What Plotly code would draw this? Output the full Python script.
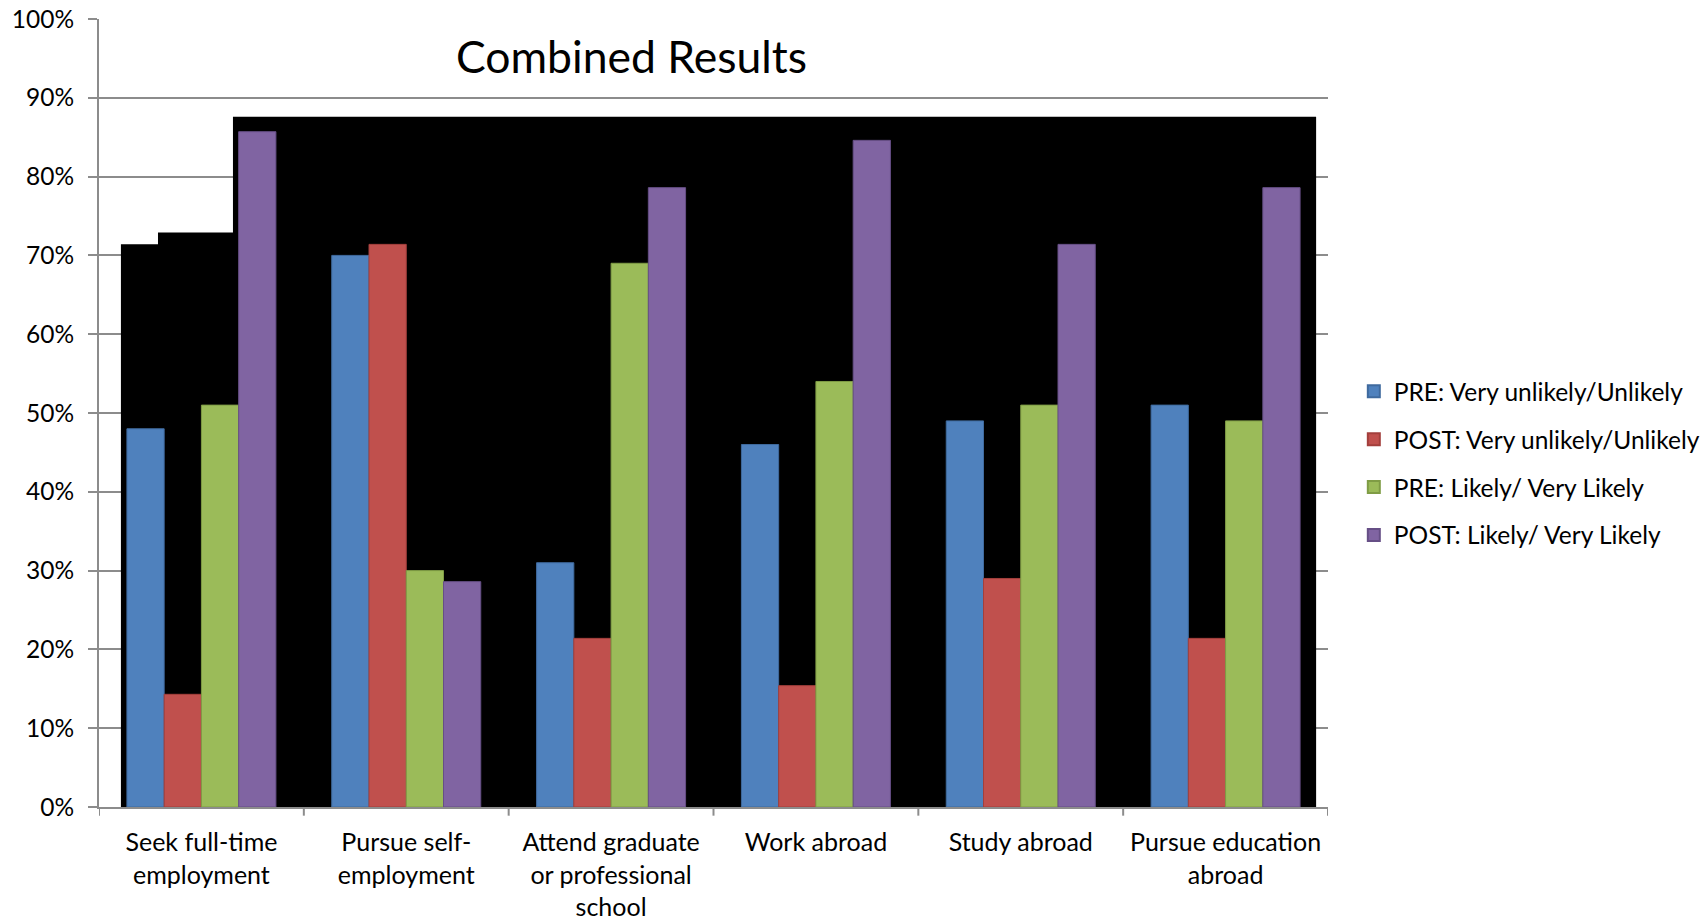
import plotly.graph_objects as go

# Survey outcomes, share of respondents per intention
categories = [
    "Seek full-time<br>employment",
    "Pursue self-<br>employment",
    "Attend graduate<br>or professional<br>school",
    "Work abroad",
    "Study abroad",
    "Pursue education<br>abroad",
]
pre_unlikely = [0.48, 0.70, 0.31, 0.46, 0.49, 0.51]
post_unlikely = [0.143, 0.714, 0.214, 0.154, 0.29, 0.214]
pre_likely = [0.51, 0.30, 0.69, 0.54, 0.51, 0.49]
post_likely = [0.857, 0.286, 0.786, 0.846, 0.714, 0.786]

series_names = [
    "PRE: Very unlikely/Unlikely",
    "POST: Very unlikely/Unlikely",
    "PRE: Likely/ Very Likely",
    "POST: Likely/ Very Likely",
]
series_values = [pre_unlikely, post_unlikely, pre_likely, post_likely]
fill_colors = ["#4F81BD", "#C0504D", "#9BBB59", "#8064A2"]
edge_colors = ["#3F6A9E", "#A33F3C", "#7F9C45", "#664F86"]

# Stepped dark backdrop behind the bars: (x in category units, level)
backdrop_x = [-0.393, -0.212, 0.154, 5.442]
backdrop_top = [0.714, 0.729, 0.876]

FONT = "Lato"
GRID = "#8C8C8C"

fig = go.Figure()
for name, vals, fc, ec in zip(series_names, series_values, fill_colors, edge_colors):
    fig.add_trace(go.Bar(
        x=list(range(len(categories))),
        y=vals,
        name=name,
        legendgroup=name,
        marker=dict(color=fc, line=dict(color=ec, width=1)),
    ))

# backdrop outline built from the step levels
path = f"M{backdrop_x[0]},0 "
for i, level in enumerate(backdrop_top):
    path += f"L{backdrop_x[i]},{level} L{backdrop_x[i + 1]},{level} "
path += f"L{backdrop_x[-1]},0 Z"

fig.update_layout(
    width=1706,
    height=920,
    margin=dict(l=99, r=378, t=19, b=113, autoexpand=False),
    paper_bgcolor="white",
    plot_bgcolor="white",
    barmode="group",
    bargap=0.2725,
    bargroupgap=0,
    font=dict(family=FONT, size=25, color="black"),
    showlegend=True,
    legend=dict(
        x=1.021, xanchor="left",
        y=0.436, yanchor="middle",
        font=dict(family=FONT, size=24.5, color="black"),
        tracegroupgap=13,
        bgcolor="rgba(0,0,0,0)",
        itemsizing="constant",
        itemwidth=30,
    ),
    shapes=[dict(
        type="path", path=path, xref="x", yref="y",
        fillcolor="black", line=dict(width=0), layer="between",
    )],
    annotations=[dict(
        text="Combined Results", xref="paper", yref="paper",
        x=0.4329, y=0.954, xanchor="center", yanchor="middle",
        showarrow=False, font=dict(family=FONT, size=44.5, color="black"),
    )],
)

fig.update_xaxes(
    range=[-0.5, len(categories) - 0.5],
    tickmode="array",
    tickvals=list(range(len(categories))),
    ticktext=categories,
    ticks="",
    showline=True, linecolor=GRID, linewidth=2,
    showgrid=False, zeroline=False,
    automargin=False,
    tickfont=dict(family=FONT, size=25, color="black"),
    ticklabelstandoff=12,
)
# boundary tick marks between categories
for k in range(len(categories) + 1):
    fig.add_shape(type="line", xref="x", yref="paper",
                  x0=k - 0.5, x1=k - 0.5, y0=0, y1=-0.011,
                  line=dict(color=GRID, width=2), layer="above")

fig.update_yaxes(
    range=[0, 1],
    tickmode="linear", tick0=0, dtick=0.1,
    tickformat=".0%",
    ticks="outside", ticklen=9, tickwidth=2, tickcolor=GRID,
    showline=True, linecolor=GRID, linewidth=2,
    showgrid=True, gridcolor=GRID, gridwidth=2,
    zeroline=False,
    automargin=False,
    tickfont=dict(family=FONT, size=24.5, color="black"),
    ticklabelstandoff=9,
)

fig.write_html("out.html")
